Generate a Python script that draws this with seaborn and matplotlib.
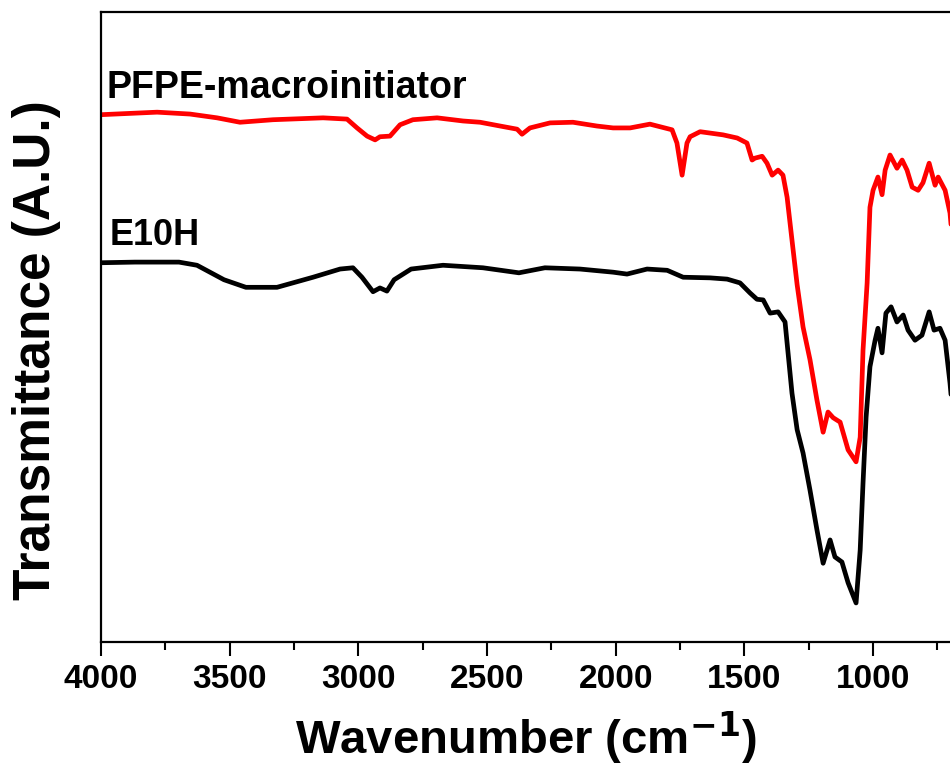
import matplotlib
matplotlib.use("Agg")
import matplotlib.pyplot as plt
from matplotlib.ticker import MultipleLocator
import pandas as pd
import seaborn as sns

# FTIR spectra, wavenumber (cm-1) vs transmittance (arbitrary units, offset)
pfpe_wavenumber = [4000, 3782, 3654, 3549, 3460, 3332, 3137, 3044, 3005, 2966,
                   2935, 2916, 2877, 2838, 2788, 2694, 2593, 2527, 2449, 2383,
                   2364, 2333, 2255, 2166, 2073, 2010, 1944, 1867, 1781, 1762,
                   1742, 1723, 1711, 1672, 1583, 1528, 1490, 1470, 1459, 1431,
                   1412, 1392, 1369, 1350, 1334, 1315, 1295, 1272, 1245, 1218,
                   1194, 1175, 1155, 1128, 1097, 1066, 1050, 1039, 1023, 1012,
                   1000, 981, 965, 953, 934, 907, 887, 868, 848, 825,
                   806, 782, 759, 747, 720, 701, 690]
pfpe_transmittance = [83.7, 84.1, 83.8, 83.2, 82.5, 82.9, 83.2, 83.0, 81.6, 80.3,
                      79.7, 80.2, 80.3, 82.1, 82.9, 83.2, 82.7, 82.5, 81.9, 81.4,
                      80.6, 81.6, 82.4, 82.5, 81.9, 81.6, 81.6, 82.2, 81.3, 79.2,
                      74.1, 79.2, 80.2, 81.0, 80.5, 80.0, 79.2, 76.5, 76.8, 77.1,
                      76.0, 74.1, 74.9, 74.1, 70.6, 63.8, 56.7, 50.0, 44.8, 38.4,
                      33.3, 36.5, 35.6, 34.9, 30.5, 28.6, 32.5, 46.3, 57.0, 69.0,
                      71.7, 73.8, 71.0, 74.9, 77.3, 75.2, 76.5, 74.9, 72.2, 71.7,
                      72.9, 76.0, 72.5, 73.8, 71.7, 68.1, 63.0]

e10h_wavenumber = [4000, 3868, 3697, 3627, 3522, 3437, 3316, 3176, 3071, 3021,
                   2986, 2943, 2916, 2889, 2861, 2795, 2671, 2516, 2376, 2275,
                   2139, 2010, 1956, 1878, 1800, 1738, 1633, 1567, 1517, 1478,
                   1451, 1427, 1400, 1369, 1342, 1315, 1295, 1272, 1245, 1218,
                   1194, 1167, 1148, 1121, 1097, 1066, 1050, 1039, 1027, 1012,
                   992, 981, 965, 950, 930, 907, 883, 864, 837, 810,
                   782, 763, 740, 720, 701, 690]
e10h_transmittance = [60.2, 60.3, 60.3, 59.8, 57.5, 56.3, 56.3, 57.9, 59.2, 59.4,
                      57.9, 55.6, 56.2, 55.7, 57.5, 59.2, 59.8, 59.4, 58.6, 59.4,
                      59.2, 58.7, 58.4, 59.2, 59.0, 57.9, 57.8, 57.6, 57.0, 55.4,
                      54.4, 54.3, 52.2, 52.4, 50.8, 39.5, 33.7, 30.0, 24.1, 17.8,
                      12.5, 16.2, 13.5, 12.7, 9.4, 6.2, 14.6, 25.2, 35.7, 43.7,
                      47.9, 49.8, 45.9, 52.2, 53.2, 50.8, 51.9, 49.5, 47.9, 48.7,
                      52.4, 49.5, 49.8, 47.9, 41.1, 36.0]

sample_names = ["PFPE-macroinitiator", "E10H"]
line_colors = ["#ff0000", "#000000"]

df = pd.concat([
    pd.DataFrame({"wavenumber": pfpe_wavenumber,
                  "transmittance": pfpe_transmittance,
                  "sample": sample_names[0]}),
    pd.DataFrame({"wavenumber": e10h_wavenumber,
                  "transmittance": e10h_transmittance,
                  "sample": sample_names[1]}),
])

sns.set_style("white")
plt.rcParams["font.family"] = ["Liberation Sans", "DejaVu Sans"]
plt.rcParams["font.weight"] = "bold"
plt.rcParams["mathtext.default"] = "bf"
plt.rcParams["text.color"] = "black"
plt.rcParams["axes.labelcolor"] = "black"
plt.rcParams["xtick.color"] = "black"

fig = plt.figure(figsize=(9.5, 7.67), dpi=100)
ax = fig.add_axes([101 / 950, 125 / 767, 1 - 101 / 950, 630 / 767])

sns.lineplot(data=df, x="wavenumber", y="transmittance", hue="sample",
             palette=dict(zip(sample_names, line_colors)), estimator=None,
             sort=False, linewidth=3.4, legend=False, ax=ax)

ax.set_xlim(4000, 701)
ax.set_ylim(0, 100)

# sample labels
ax.text(3978, 88.0, "PFPE-macroinitiator", fontsize=27, fontweight="bold",
        va="center", ha="left")
ax.text(3968, 64.6, "E10H", fontsize=26, fontweight="bold",
        va="center", ha="left")

ax.xaxis.set_major_locator(MultipleLocator(500))
ax.xaxis.set_minor_locator(MultipleLocator(250))
ax.tick_params(axis="x", which="major", direction="out", length=10, width=1.5,
               pad=6, bottom=True, labelsize=24)
ax.tick_params(axis="x", which="minor", direction="out", length=6, width=1.5,
               bottom=True)
ax.set_yticks([])
for lbl in ax.get_xticklabels():
    lbl.set_fontweight("bold")

for side in ["left", "bottom", "top"]:
    ax.spines[side].set_visible(True)
    ax.spines[side].set_color("black")
    ax.spines[side].set_linewidth(1.6)
ax.spines["right"].set_visible(False)

ax.set_xlabel("Wavenumber (cm$^{\\mathbf{-1}}$)", fontsize=34,
              fontweight="bold", labelpad=10)
ax.set_ylabel("Transmittance (A.U.)", fontsize=37, fontweight="bold")
ax.yaxis.set_label_coords(-0.047, 0.463)

fig.savefig("out.png", dpi=100)
